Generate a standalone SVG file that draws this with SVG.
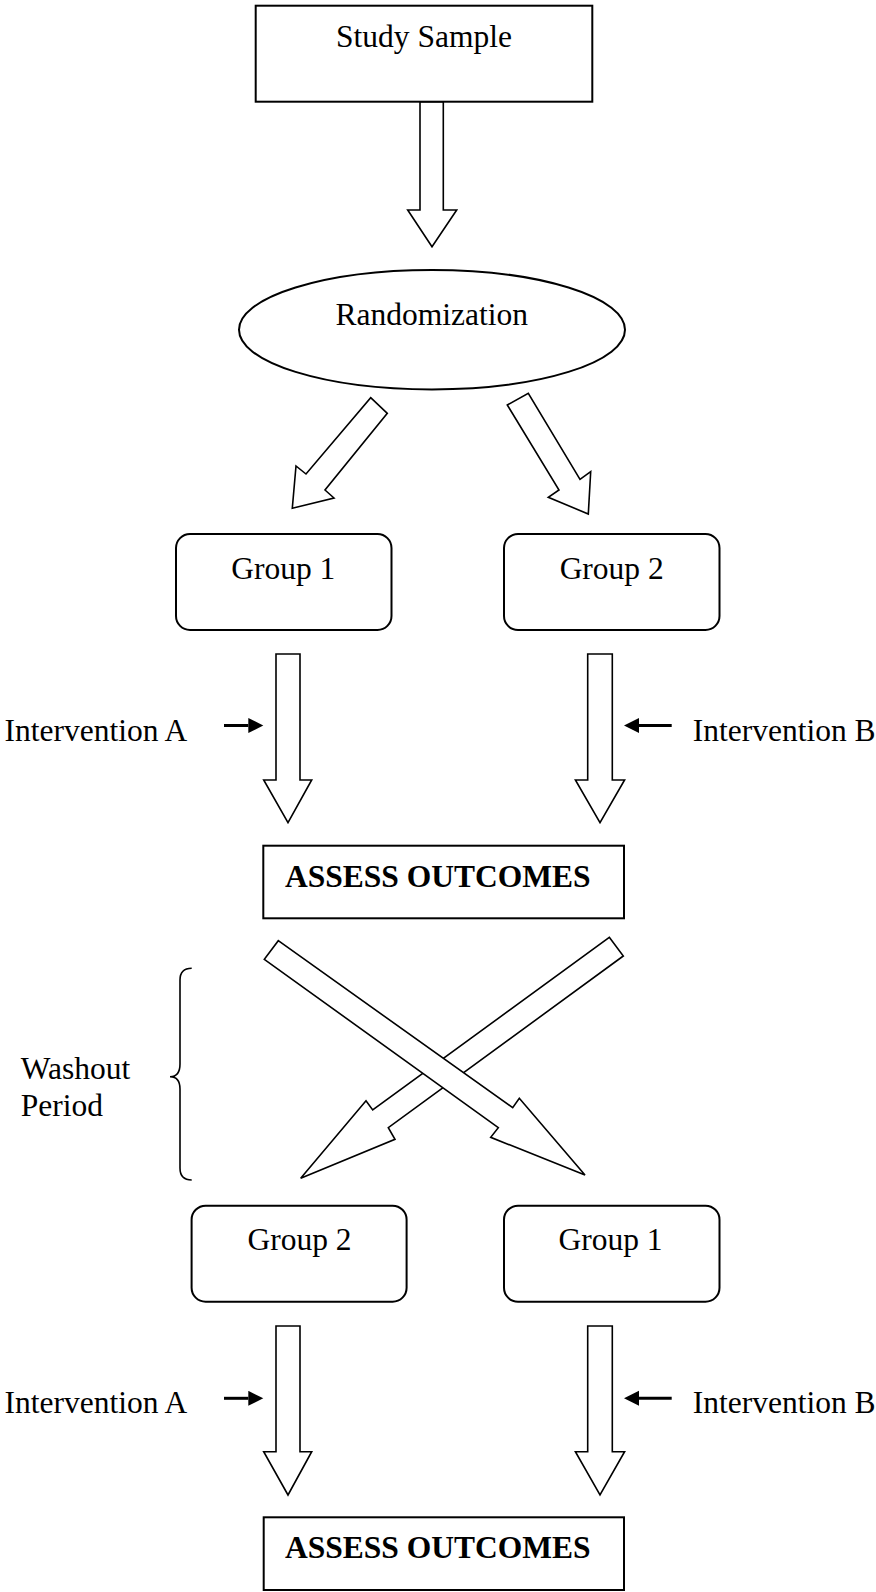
<svg xmlns="http://www.w3.org/2000/svg" width="876" height="1592" viewBox="0 0 876 1592">
  <style>
    .box { fill: #ffffff; stroke: #000000; stroke-width: 2; }
    .block { fill: #ffffff; stroke: #000000; stroke-width: 1.6; stroke-linejoin: miter; }
    .lbl { font-family: "Liberation Serif", "Times New Roman", serif; font-size: 31.5px; fill: #000000; }
    .bold { font-weight: bold; }
    .ptr { stroke: #000000; stroke-width: 3; fill: none; }
    .brace { fill: none; stroke: #000000; stroke-width: 1.6; }
  </style>
  <defs>
    <marker id="head" markerUnits="userSpaceOnUse" markerWidth="16" markerHeight="16" refX="0" refY="7.5" orient="auto">
      <path d="M0,0 L15,7.5 L0,15 z" fill="#000000"/>
    </marker>
  </defs>
  <rect width="876" height="1592" fill="#ffffff"/>

  <!-- block arrows between stages -->
  <g id="connectors">
    <polygon class="block" points="420,101.7 443.3,101.7 443.3,210 456.7,210 432,246.7 407.7,210 420,210"/>
    <polygon class="block" points="370.7,397.7 387.3,413.3 325,490 334,498 292.3,508.3 296,466 306,474"/>
    <polygon class="block" points="507.3,405 528.3,393.3 580,479.3 590.7,471.7 588.3,514 548.3,497.3 559,490"/>
    <polygon class="block" points="276,654 300,654 300,780 311.7,780 288,822.7 263.7,780 276,780"/>
    <polygon class="block" points="587.7,654 612.3,654 612.3,780 624.6,780 600,822.7 575.4,780 587.7,780"/>
    <!-- crossover -->
    <polygon class="block" points="609.3,937.3 623.3,956 388.3,1127.7 395,1139.3 300.7,1178.3 366,1100.7 372.7,1110"/>
    <polygon class="block" points="278.3,940.7 512.7,1107.7 519.3,1098.3 585,1175 490.7,1137.3 498.3,1127.7 264.3,959.3"/>
    <polygon class="block" points="276,1326 300,1326 300,1451.7 311.7,1451.7 288,1495 263.7,1451.7 276,1451.7"/>
    <polygon class="block" points="587.7,1326 612.3,1326 612.3,1451.7 624.6,1451.7 600,1495 575.4,1451.7 587.7,1451.7"/>
    <!-- intervention pointers -->
    <line class="ptr" x1="224" y1="725.5" x2="248.3" y2="725.5" marker-end="url(#head)"/>
    <line class="ptr" x1="671.7" y1="725.5" x2="639" y2="725.5" marker-end="url(#head)"/>
    <line class="ptr" x1="224" y1="1398.3" x2="248.3" y2="1398.3" marker-end="url(#head)"/>
    <line class="ptr" x1="671.7" y1="1398.3" x2="639" y2="1398.3" marker-end="url(#head)"/>
  </g>

  <g id="study-sample">
    <rect class="box" x="255.7" y="5.7" width="336.6" height="96"/>
    <text class="lbl" x="424" y="46.7" text-anchor="middle">Study Sample</text>
  </g>

  <g id="randomization">
    <ellipse class="box" cx="432" cy="329.7" rx="193" ry="59.7"/>
    <text class="lbl" x="431.7" y="325" text-anchor="middle">Randomization</text>
  </g>

  <g id="group1-first">
    <rect class="box" x="176" y="534" width="215.5" height="96" rx="14" ry="14"/>
    <text class="lbl" x="283.3" y="579.3" text-anchor="middle">Group 1</text>
  </g>

  <g id="group2-first">
    <rect class="box" x="504" y="534" width="215.5" height="96" rx="14" ry="14"/>
    <text class="lbl" x="611.7" y="579.3" text-anchor="middle">Group 2</text>
  </g>

  <g id="intervention-a-first">
    <text class="lbl" x="4.5" y="740.7">Intervention A</text>
  </g>
  <g id="intervention-b-first">
    <text class="lbl" x="692.7" y="740.7">Intervention B</text>
  </g>

  <g id="assess-first">
    <rect class="box" x="263.3" y="845.7" width="360.7" height="72.6"/>
    <text class="lbl bold" x="285" y="886.7">ASSESS OUTCOMES</text>
  </g>

  <g id="washout">
    <path class="brace" d="M191.7,968.3 C184,968.3 180,972 180,980 L180,1064 C180,1072 176.5,1076.7 170,1076.7 C176.5,1076.7 180,1081 180,1089 L180,1168 C180,1176 184,1180 191.7,1180"/>
    <text class="lbl" x="20.7" y="1079.3">Washout</text>
    <text class="lbl" x="20.7" y="1116">Period</text>
  </g>

  <g id="group2-second">
    <rect class="box" x="191.6" y="1205.7" width="215" height="96" rx="14" ry="14"/>
    <text class="lbl" x="299.5" y="1250" text-anchor="middle">Group 2</text>
  </g>

  <g id="group1-second">
    <rect class="box" x="504" y="1205.7" width="215.5" height="96" rx="14" ry="14"/>
    <text class="lbl" x="610.5" y="1250" text-anchor="middle">Group 1</text>
  </g>

  <g id="intervention-a-second">
    <text class="lbl" x="4.5" y="1412.7">Intervention A</text>
  </g>
  <g id="intervention-b-second">
    <text class="lbl" x="692.7" y="1412.7">Intervention B</text>
  </g>

  <g id="assess-second">
    <rect class="box" x="263.7" y="1517.3" width="360.3" height="72.7"/>
    <text class="lbl bold" x="285" y="1558.3">ASSESS OUTCOMES</text>
  </g>
</svg>
